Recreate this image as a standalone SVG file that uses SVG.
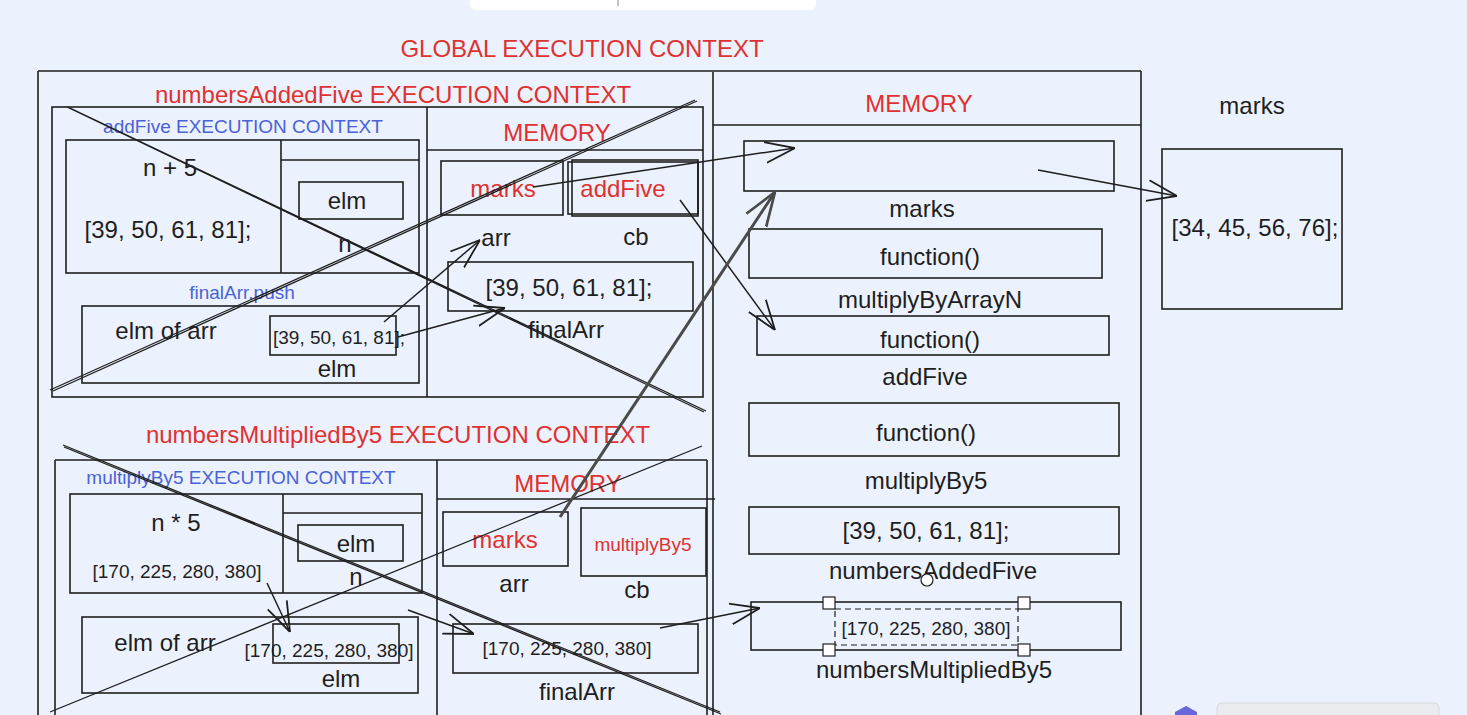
<svg xmlns="http://www.w3.org/2000/svg" width="1467" height="715" viewBox="0 0 1467 715">
<defs>
<style>
.bx{fill:none;stroke:#1e1e1e;stroke-width:1.6}
.ln{fill:none;stroke:#1e1e1e;stroke-width:1.5}
.t{font-family:"Liberation Sans",Arial,sans-serif;fill:#1e1e1e;text-anchor:middle;dominant-baseline:central}
.r{fill:#e03131}
.b{fill:#4a62d8}
.s24{font-size:24px}
.s19{font-size:19px}
.cross{fill:none;stroke:#1e1e1e;stroke-width:1.3}
.arr{fill:none;stroke:#1e1e1e;stroke-width:1.5;marker-end:url(#ah)}
.arrg{fill:none;stroke:#4a4a4a;stroke-width:3;marker-end:url(#ahg)}
</style>
<marker id="ah" viewBox="0 0 20 20" refX="20" refY="10" markerWidth="30" markerHeight="30" markerUnits="userSpaceOnUse" orient="auto">
<path d="M0,3 L20,10 L0,17" fill="none" stroke="#1e1e1e" stroke-width="1.2"/>
</marker>
<marker id="ahg" viewBox="0 0 20 20" refX="20" refY="10" markerWidth="34" markerHeight="34" markerUnits="userSpaceOnUse" orient="auto">
<path d="M0,3 L20,10 L0,17" fill="none" stroke="#4a4a4a" stroke-width="1.6"/>
</marker>
</defs>
<rect x="0" y="0" width="1467" height="715" fill="#ecf2fd"/>
<!-- UI artifacts -->
<rect x="470" y="-12" width="346" height="22" rx="6" fill="#ffffff"/>
<line x1="618" y1="0" x2="618" y2="6" stroke="#888" stroke-width="1"/>
<path d="M1186,706 L1197,712 L1197,720 L1175,720 L1175,712 Z" fill="#6965db"/>
<rect x="1217" y="703" width="222" height="20" rx="5" fill="#e9ecef" stroke="#d6d9de"/>

<g id="global">
<text class="t r s24" x="582" y="48">GLOBAL EXECUTION CONTEXT</text>
<path class="bx" d="M38,71 L1141,71 M38,71 L38,716 M1141,71 L1141,716 M713,72 L713,716"/>
</g>

<g id="global-memory">
<text class="t r s24" x="919" y="103">MEMORY</text>
<path class="bx" d="M713,125 L1141,125"/>
</g>

<g id="gm-marks">
<rect class="bx" x="744" y="141" width="370" height="50"/>
<text class="t s24" x="922" y="208">marks</text>
</g>
<g id="gm-multiplyByArrayN">
<rect class="bx" x="749" y="229" width="353" height="49"/>
<text class="t s24" x="930" y="256">function()</text>
<text class="t s24" x="930" y="299">multiplyByArrayN</text>
</g>
<g id="gm-addFive">
<rect class="bx" x="757" y="316" width="352" height="39"/>
<text class="t s24" x="930" y="339">function()</text>
<text class="t s24" x="925" y="376">addFive</text>
</g>
<g id="gm-multiplyBy5">
<rect class="bx" x="749" y="403" width="370" height="53"/>
<text class="t s24" x="926" y="432">function()</text>
<text class="t s24" x="926" y="480">multiplyBy5</text>
</g>
<g id="gm-numbersAddedFive">
<rect class="bx" x="749" y="507" width="370" height="47"/>
<text class="t s24" x="926" y="530">[39, 50, 61, 81];</text>
<text class="t s24" x="933" y="570">numbersAddedFive</text>
</g>
<g id="gm-numbersMultipliedBy5">
<rect class="bx" x="751" y="602" width="370" height="48"/>
<rect x="835" y="609" width="183" height="36" fill="none" stroke="#1e1e1e" stroke-width="1.2" stroke-dasharray="6,4"/>
<text class="t s19" x="926" y="628" fill="#333">[170, 225, 280, 380]</text>
<rect x="823" y="597" width="12" height="12" fill="#fff" stroke="#1e1e1e" stroke-width="1.2"/>
<rect x="1018" y="597" width="12" height="12" fill="#fff" stroke="#1e1e1e" stroke-width="1.2"/>
<rect x="823" y="644" width="12" height="12" fill="#fff" stroke="#1e1e1e" stroke-width="1.2"/>
<rect x="1018" y="644" width="12" height="12" fill="#fff" stroke="#1e1e1e" stroke-width="1.2"/>
<circle cx="927" cy="580" r="6" fill="#fff" stroke="#1e1e1e" stroke-width="1.2"/>
<text class="t s24" x="934" y="669">numbersMultipliedBy5</text>
</g>

<g id="heap-marks">
<text class="t s24" x="1252" y="105">marks</text>
<rect class="bx" x="1162" y="149" width="180" height="160"/>
<text class="t s24" x="1255" y="227">[34, 45, 56, 76];</text>
</g>

<!-- numbersAddedFive -->
<g id="nAF-context">
<text class="t r s24" x="393" y="94">numbersAddedFive EXECUTION CONTEXT</text>
<rect class="bx" x="52" y="107" width="651" height="290"/>
<path class="bx" d="M427,107 L427,397"/>
</g>
<g id="addFive-context">
<text class="t b s19" x="243" y="126">addFive EXECUTION CONTEXT</text>
<rect class="bx" x="66" y="140" width="353" height="133"/>
<path class="bx" d="M281,140 L281,273 M281,160 L419,160"/>
<text class="t s24" x="170" y="167">n + 5</text>
<text class="t s24" x="168" y="229">[39, 50, 61, 81];</text>
<rect class="bx" x="299" y="182" width="104" height="37"/>
<text class="t s24" x="347" y="200">elm</text>
<text class="t s24" x="345" y="243">n</text>
</g>
<g id="addFive-push">
<text class="t b s19" x="242" y="292">finalArr.push</text>
<rect class="bx" x="82" y="306" width="337" height="77"/>
<text class="t s24" x="166" y="330">elm of arr</text>
<rect class="bx" x="270" y="316" width="126" height="39"/>
<text class="t s19" x="339" y="337">[39, 50, 61, 81];</text>
<text class="t s24" x="337" y="368">elm</text>
</g>
<g id="nAF-memory">
<text class="t r s24" x="557" y="132">MEMORY</text>
<path class="bx" d="M427,150 L703,150"/>
<rect class="bx" x="441" y="161" width="122" height="54"/>
<text class="t r s24" x="503" y="188">marks</text>
<rect class="bx" x="572" y="160" width="126" height="56"/>
<rect class="bx" x="568" y="162" width="130" height="52"/>
<text class="t r s24" x="623" y="188">addFive</text>
<text class="t s24" x="496" y="237">arr</text>
<text class="t s24" x="636" y="236">cb</text>
<rect class="bx" x="448" y="262" width="245" height="49"/>
<text class="t s24" x="569" y="287">[39, 50, 61, 81];</text>
<text class="t s24" x="566" y="329">finalArr</text>
</g>

<!-- numbersMultipliedBy5 -->
<g id="nMB5-context">
<text class="t r s24" x="398" y="434">numbersMultipliedBy5 EXECUTION CONTEXT</text>
<path class="bx" d="M55,460 L707,460 M55,460 L55,716 M707,460 L707,716 M437,460 L437,716"/>
</g>
<g id="multiplyBy5-context">
<text class="t b s19" x="241" y="477">multiplyBy5 EXECUTION CONTEXT</text>
<rect class="bx" x="70" y="494" width="352" height="99"/>
<path class="bx" d="M283,494 L283,593 M283,513 L422,513"/>
<text class="t s24" x="176" y="522">n * 5</text>
<text class="t s19" x="177" y="571">[170, 225, 280, 380]</text>
<rect class="bx" x="298" y="525" width="105" height="36"/>
<text class="t s24" x="356" y="543">elm</text>
<text class="t s24" x="356" y="576">n</text>
</g>
<g id="multiplyBy5-elm">
<rect class="bx" x="82" y="617" width="336" height="76"/>
<text class="t s24" x="165" y="642">elm of arr</text>
<rect class="bx" x="273" y="624" width="126" height="39"/>
<text class="t s19" x="329" y="650">[170, 225, 280, 380]</text>
<text class="t s24" x="341" y="678">elm</text>
</g>
<g id="nMB5-memory">
<text class="t r s24" x="568" y="483">MEMORY</text>
<path class="bx" d="M437,499 L715,499"/>
<rect class="bx" x="443" y="512" width="125" height="54"/>
<text class="t r s24" x="505" y="539">marks</text>
<rect class="bx" x="581" y="508" width="125" height="68"/>
<text class="t r s19" x="643" y="544">multiplyBy5</text>
<text class="t s24" x="514" y="583">arr</text>
<text class="t s24" x="637" y="589">cb</text>
<rect class="bx" x="453" y="624" width="245" height="49"/>
<text class="t s19" x="567" y="648">[170, 225, 280, 380]</text>
<text class="t s24" x="577" y="691">finalArr</text>
</g>

<g id="connectors">
<path class="cross" d="M67,107 L704,412 M70,108 L706,411"/>
<path class="cross" d="M50,390 L695,100 M53,391 L697,101"/>
<path class="cross" d="M63,445 L720,712 M64,447 L721,714"/>
<path class="cross" d="M50,712 L702,446"/>
<path class="arr" d="M533,187 L795,148"/>
<path class="arr" d="M1038,170 L1177,196"/>
<path class="arr" d="M680,200 L775,330"/>
<path class="arrg" d="M560,517 L775,192"/>
<path class="arr" d="M660,628 L760,608"/>
<path class="arr" d="M384,322 L480,240" stroke-width="2.5"/>
<path class="arr" d="M398,337 L505,308"/>
<path class="arr" d="M267,583 L290,632"/>
<path class="arr" d="M408,610 L474,634"/>
</g>
</svg>
